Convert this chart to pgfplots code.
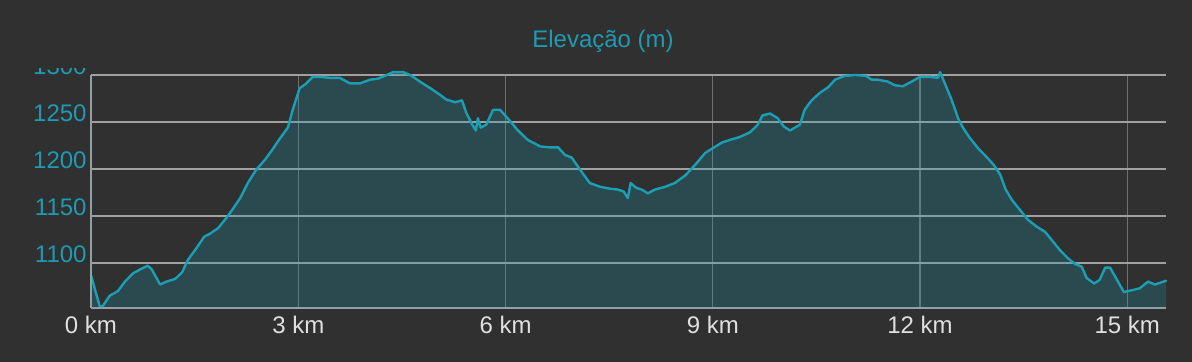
\documentclass[border=0pt]{standalone}
\usepackage{pgfplots}
\pgfplotsset{compat=1.18}
\usepackage{fontspec}
\setmainfont{Liberation Sans}
\definecolor{bg}{HTML}{303030}
\definecolor{teal1}{HTML}{1A9FB5}
\definecolor{tealtxt}{HTML}{1E9AB3}
\definecolor{gridh}{HTML}{A0A0A0}
\definecolor{gridv}{HTML}{707070}
\definecolor{axisc}{HTML}{90A0A3}
\definecolor{xlab}{HTML}{E0E0E0}
\pgfplotstableread{
x y
0 1087
0.06 1071
0.13 1053
0.17 1054
0.27 1065
0.39 1070
0.49 1080
0.61 1089
0.71 1093
0.82 1097
0.88 1093
1.0 1077
1.09 1080
1.22 1083
1.32 1090
1.40 1103
1.52 1115
1.64 1128
1.72 1131
1.84 1137
1.94 1146
2.04 1156
2.16 1169
2.27 1185
2.39 1199
2.52 1210
2.62 1220
2.74 1233
2.85 1244
2.92 1263
3.02 1286
3.10 1290
3.21 1298
3.31 1298
3.46 1297
3.60 1297
3.75 1291
3.89 1291
4.04 1295
4.15 1296
4.25 1299
4.37 1303
4.52 1303
4.62 1300
4.76 1293
4.91 1286
5.05 1279
5.14 1274
5.27 1271
5.37 1273
5.43 1260
5.52 1247
5.57 1241
5.60 1254
5.64 1244
5.72 1247
5.82 1263
5.92 1263
6.03 1254
6.18 1241
6.32 1231
6.50 1224
6.64 1223
6.76 1223
6.86 1215
6.96 1212
7.08 1199
7.22 1185
7.37 1181
7.51 1179
7.63 1178
7.71 1176
7.77 1169
7.81 1185
7.89 1180
7.97 1178
8.06 1174
8.16 1178
8.31 1181
8.45 1185
8.60 1193
8.74 1204
8.89 1217
9.02 1223
9.13 1228
9.25 1231
9.39 1234
9.54 1239
9.65 1247
9.72 1257
9.83 1259
9.94 1254
10.03 1245
10.12 1241
10.19 1244
10.26 1247
10.33 1263
10.43 1273
10.55 1281
10.67 1287
10.77 1295
10.91 1299
11.06 1300
11.22 1299
11.30 1295
11.39 1295
11.53 1293
11.64 1289
11.75 1288
11.88 1293
12.0 1298
12.14 1298
12.26 1297
12.29 1303
12.32 1298
12.37 1289
12.46 1273
12.55 1254
12.62 1244
12.72 1233
12.84 1222
12.96 1213
13.07 1204
13.16 1194
13.24 1178
13.33 1167
13.45 1156
13.56 1146
13.68 1139
13.81 1133
13.91 1124
14.02 1114
14.14 1105
14.24 1099
14.34 1096
14.41 1084
14.52 1078
14.60 1082
14.68 1095
14.75 1095
14.85 1082
14.95 1069
15.07 1071
15.18 1073
15.30 1080
15.40 1077
15.56 1081
}\elev
\begin{document}
\begin{tikzpicture}
\fill[bg] (-45.5pt,-27pt) rectangle (550.5pt,154pt);
\begin{axis}[
  scale only axis,
  width=537.5pt, height=116.5pt,
  xmin=0, xmax=15.56, ymin=1052, ymax=1300,
  clip=false,
  axis x line*=bottom, axis y line*=left,
  axis line style={axisc, line width=0.9pt, -},
  xtick={0,3,6,9,12,15},
  xticklabels={0 km,3 km,6 km,9 km,12 km,15 km},
  ytick={1100,1150,1200,1250,1300},
  major tick length=0pt,
  xmajorgrids, ymajorgrids,
  x grid style={gridv, line width=0.6pt},
  y grid style={gridh, line width=0.9pt},
  xticklabel style={xlab, font=\fontsize{12}{14}\selectfont, anchor=north, inner sep=0pt, yshift=-4pt},
  yticklabel style={tealtxt, font=\fontsize{12}{14}\selectfont, anchor=base east, inner sep=0pt, xshift=-2pt},
  /pgf/number format/assume math mode=true,
  /pgf/number format/1000 sep={},
]
\addplot[draw=none, fill=teal1, fill opacity=0.24] table {\elev} \closedcycle;
\addplot[teal1, line width=1.2pt, line join=round, line cap=round] table {\elev};
\end{axis}
\draw[axisc, line width=0.9pt] (0,0) -- (537.5pt,0);
\draw[axisc, line width=0.9pt] (0,0) -- (0,116.5pt);
\fill[bg] (-45.5pt,120pt) rectangle (-1pt,154pt);
\node[anchor=base, inner sep=0pt, text=tealtxt, font=\fontsize{12}{14}\selectfont] at (256pt,130pt) {Elevação (m)};
\end{tikzpicture}
\end{document}
